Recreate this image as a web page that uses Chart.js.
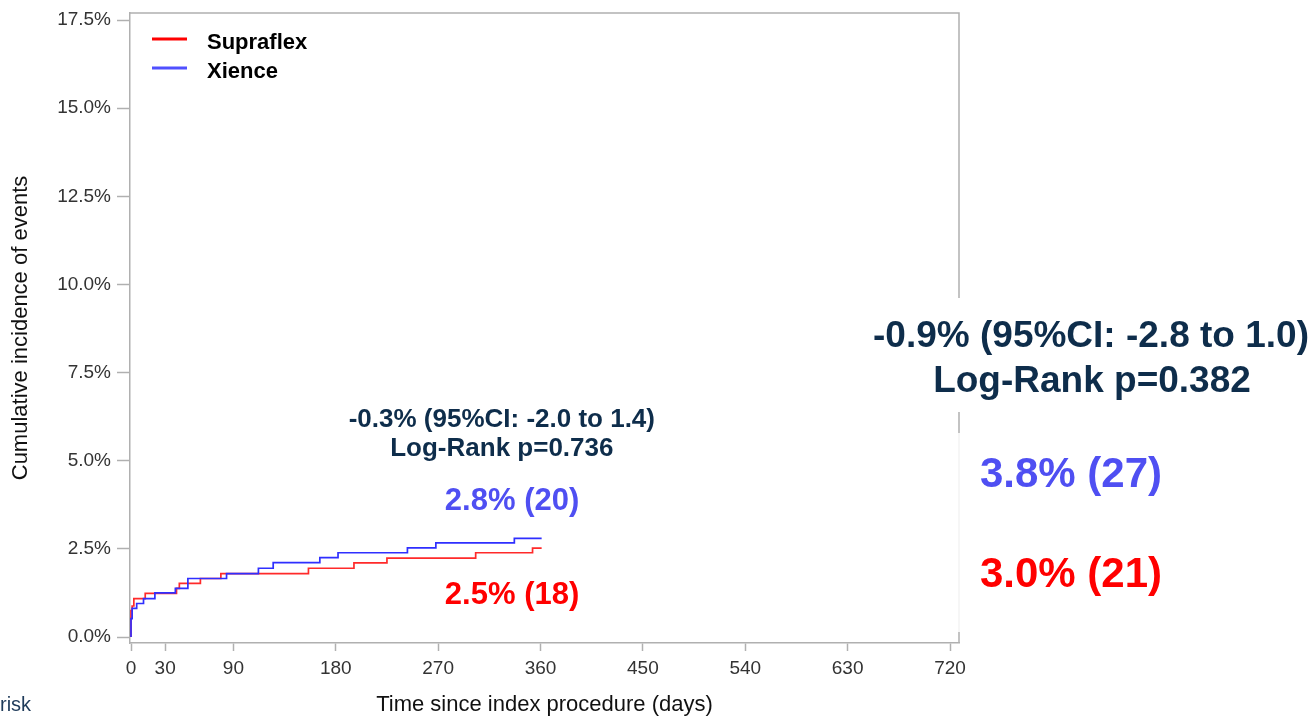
<!DOCTYPE html>
<html>
<head>
<meta charset="utf-8">
<script src="https://cdn.jsdelivr.net/npm/chart.js@4.4.1/dist/chart.umd.min.js"></script>
<style>
  html, body { margin: 0; padding: 0; background: #fff; }
  #kmChart { display: block; }
</style>
</head>
<body>
<canvas id="kmChart" width="1314" height="719"></canvas>
<script>
// Axis ticks
const xTickDays = [0, 30, 90, 180, 270, 360, 450, 540, 630, 720];
const yTickPct = [0, 2.5, 5, 7.5, 10, 12.5, 15, 17.5];

// Cumulative incidence steps (day of event, % after the event)
const supraflexDays = [0, 0, 1, 2.5, 12.5, 40, 42.5, 61, 79, 156, 196, 225, 303, 353, 361];
const supraflexPct  = [0, 0.75, 0.88, 1.09, 1.24, 1.38, 1.52, 1.66, 1.80, 1.95, 2.10, 2.24, 2.39, 2.52, 2.52];
const xienceDays = [0, 0, 1, 5, 11, 21, 39, 50, 84, 112, 125, 166, 182, 243, 268, 337, 361];
const xiencePct  = [0, 0.52, 0.81, 0.95, 1.09, 1.25, 1.38, 1.66, 1.80, 1.95, 2.11, 2.25, 2.39, 2.53, 2.67, 2.80, 2.80];

// Summary texts
const oneYearStats = ['-0.3% (95%CI: -2.0 to 1.4)', 'Log-Rank p=0.736'];
const oneYearRates = ['2.8% (20)', '2.5% (18)'];   // Xience, Supraflex
const twoYearStats = ['-0.9% (95%CI: -2.8 to 1.0)', 'Log-Rank p=0.382'];
const twoYearRates = ['3.8% (27)', '3.0% (21)'];   // Xience, Supraflex

const FONT = "'Liberation Sans', Arial, sans-serif";
const NAVY = '#0e2d4b';
const RED = '#ff0000';
const BLUE = '#4f4ff2';
const axisColor = '#b0b0b0';

const toPoints = (days, pct) => days.map((d, i) => ({ x: d, y: pct[i] }));

function drawText(ctx, text, x, y, size, color, align) {
    ctx.font = 'bold ' + size + 'px ' + FONT;
    ctx.fillStyle = color;
    ctx.textAlign = align || 'center';
    ctx.textBaseline = 'alphabetic';
    ctx.fillText(text, x, y);
}

// Frame, legend and the pasted summary numbers
const overlay = {
    id: 'overlay',
    afterDraw(chart) {
        const { ctx, chartArea: a, scales: { x, y } } = chart;
        ctx.save();

        // top and right frame
        ctx.strokeStyle = axisColor;
        ctx.lineWidth = 1.5;
        ctx.beginPath();
        ctx.moveTo(a.left, a.top);
        ctx.lineTo(a.right, a.top);
        ctx.lineTo(a.right, a.bottom);
        ctx.stroke();

        // legend inside the plot
        chart.data.datasets.forEach((ds, i) => {
            const ly = 39 + i * 29;
            ctx.strokeStyle = ds.legendColor;
            ctx.lineWidth = 3;
            ctx.beginPath();
            ctx.moveTo(152, ly);
            ctx.lineTo(187, ly);
            ctx.stroke();
            drawText(ctx, ds.label, 207, ly + 10, 22, '#000', 'left');
        });

        // one-year numbers, anchored on the scales
        drawText(ctx, oneYearStats[0], x.getPixelForValue(326), y.getPixelForValue(5.95), 26, NAVY);
        drawText(ctx, oneYearStats[1], x.getPixelForValue(326), y.getPixelForValue(5.14), 26, NAVY);
        drawText(ctx, oneYearRates[0], x.getPixelForValue(335), y.getPixelForValue(3.61), 31, BLUE);
        drawText(ctx, oneYearRates[1], x.getPixelForValue(335), y.getPixelForValue(0.95), 31, RED);

        // white patch behind the two-year block (covers the frame)
        ctx.fillStyle = '#fff';
        ctx.fillRect(862, 298, 452, 114);
        ctx.fillStyle = 'rgba(255,255,255,0.85)';
        ctx.fillRect(862, 433, 452, 199);

        drawText(ctx, twoYearStats[0], 1091, 347, 37, NAVY);
        drawText(ctx, twoYearStats[1], 1092, 391.5, 37, NAVY);
        drawText(ctx, twoYearRates[0], 1071, 486.5, 42, BLUE);
        drawText(ctx, twoYearRates[1], 1071, 586.5, 42, RED);

        // cut-off "Number at risk" heading
        ctx.font = '20px ' + FONT;
        ctx.fillStyle = '#1f3b5a';
        ctx.textAlign = 'left';
        ctx.fillText('risk', 0, 711);

        ctx.restore();
    }
};

const kmChart = new Chart(document.getElementById('kmChart').getContext('2d'), {
    type: 'line',
    data: {
        datasets: [{
            label: 'Supraflex',
            data: toPoints(supraflexDays, supraflexPct),
            borderColor: '#ff2a2a',
            legendColor: RED,
            borderWidth: 1.7,
            stepped: true,
            pointRadius: 0,
            fill: false,
            order: 1
        }, {
            label: 'Xience',
            data: toPoints(xienceDays, xiencePct),
            borderColor: '#2f2fff',
            legendColor: '#5050ff',
            borderWidth: 1.7,
            stepped: true,
            pointRadius: 0,
            fill: false,
            order: 0
        }]
    },
    options: {
        responsive: false,
        animation: false,
        events: [],
        layout: { padding: { top: 13, right: 355, left: 0, bottom: 0 } },
        plugins: {
            legend: { display: false },
            tooltip: { enabled: false }
        },
        scales: {
            x: {
                type: 'linear',
                min: -0.88,
                max: 727.9,
                afterBuildTicks: s => { s.ticks = xTickDays.map(v => ({ value: v })); },
                afterFit: s => { s.height = 76; },
                ticks: {
                    autoSkip: false,
                    maxRotation: 0,
                    padding: 6,
                    color: '#333',
                    font: { family: FONT, size: 19 },
                    callback: v => String(v)
                },
                grid: { drawOnChartArea: false, tickLength: 8, tickColor: axisColor, tickWidth: 1.5 },
                border: { color: axisColor, width: 1.5 },
                title: {
                    display: true,
                    text: 'Time since index procedure (days)',
                    color: '#111',
                    font: { family: FONT, size: 22 },
                    padding: { top: 0, bottom: 1 }
                }
            },
            y: {
                type: 'linear',
                min: -0.17,
                max: 17.7,
                afterBuildTicks: s => { s.ticks = yTickPct.map(v => ({ value: v })); },
                afterFit: s => {
                    s.width = 130;
                    s.paddingTop = 0;
                    s.paddingBottom = 0;
                },
                ticks: {
                    padding: 6,
                    color: '#333',
                    font: { family: FONT, size: 19 },
                    callback: v => v.toFixed(1) + '%'
                },
                grid: { drawOnChartArea: false, tickLength: 13, tickColor: axisColor, tickWidth: 1.5 },
                border: { color: axisColor, width: 1.5 },
                title: {
                    display: true,
                    text: 'Cumulative incidence of events',
                    color: '#111',
                    font: { family: FONT, size: 22 },
                    padding: { top: 8, bottom: 0 }
                }
            }
        }
    },
    plugins: [overlay]
});
</script>
</body>
</html>
